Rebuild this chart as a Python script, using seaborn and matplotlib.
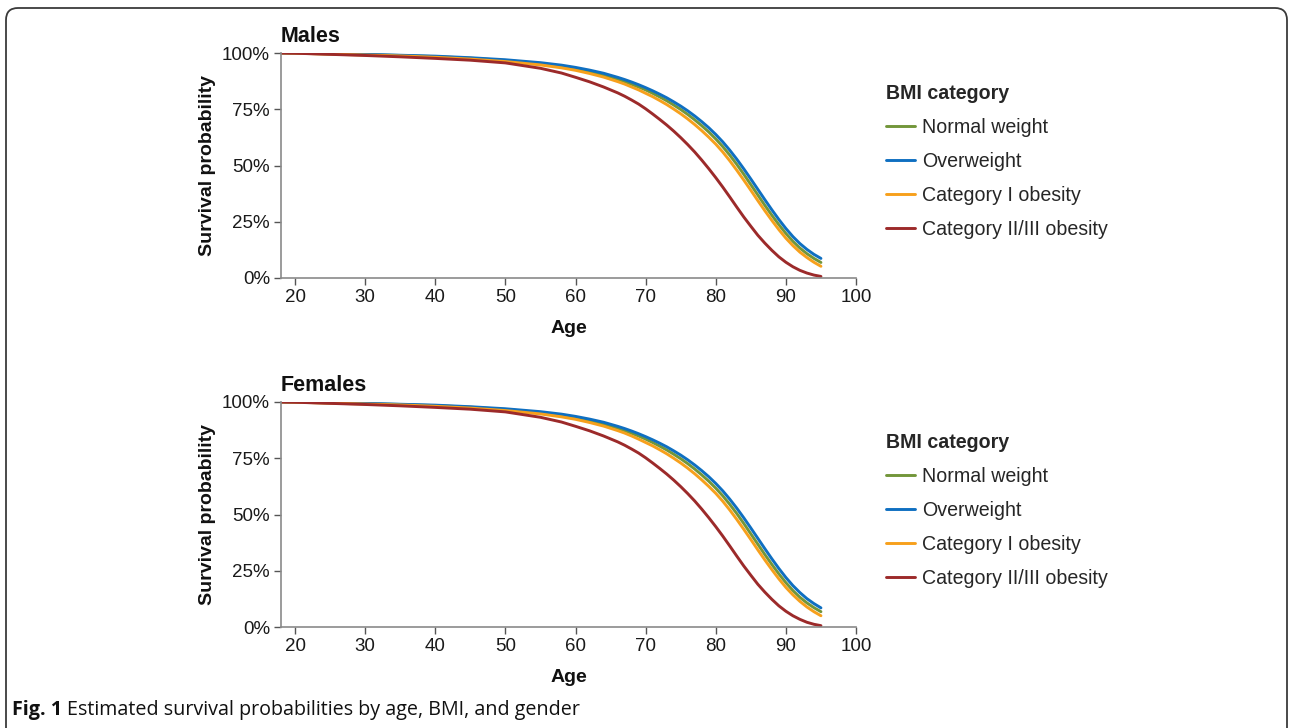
import numpy as np
import pandas as pd
import matplotlib
matplotlib.use("Agg")
import matplotlib.pyplot as plt
from matplotlib.patches import FancyBboxPatch
from matplotlib.ticker import PercentFormatter
import seaborn as sns

# ---------------- data ----------------
ages = [18, 20, 25, 30, 35, 40, 45, 50, 55, 58, 60, 62, 64, 66,
        67, 68, 69, 70, 71, 72, 73, 74, 75, 76, 77, 78, 79, 80, 81,
        82, 83, 84, 85, 86, 87, 88, 89, 90, 91, 92, 93, 94, 95]

categories = ["Normal weight", "Overweight", "Category I obesity", "Category II/III obesity"]

males_normal = [100, 99.9, 99.6, 99.3, 98.9, 98.4, 97.7, 96.7, 95.3, 94.1, 93.1, 91.8, 90.3, 88.4,
                87.3, 86.1, 84.9, 83.6, 82.1, 80.5, 78.8, 76.9, 74.9, 72.7, 70.3, 67.7, 64.9, 61.8, 58.4,
                54.6, 50.5, 46.1, 41.5, 36.9, 32.3, 27.9, 23.7, 19.8, 16.3, 13.3, 10.8, 8.7, 6.9]
males_over = [100, 99.9, 99.7, 99.4, 99.0, 98.6, 97.9, 97.0, 95.7, 94.6, 93.6, 92.4, 91.0, 89.2,
              88.2, 87.1, 85.9, 84.6, 83.2, 81.7, 80.1, 78.3, 76.4, 74.3, 72.0, 69.5, 66.8, 63.8, 60.5,
              56.8, 52.8, 48.5, 44.0, 39.4, 34.8, 30.3, 26.0, 22.0, 18.4, 15.3, 12.7, 10.5, 8.7]
males_cat1 = [100, 99.9, 99.5, 99.1, 98.7, 98.1, 97.3, 96.2, 94.7, 93.4, 92.3, 90.9, 89.3, 87.3,
              86.2, 84.9, 83.6, 82.1, 80.6, 78.9, 77.1, 75.1, 73.0, 70.7, 68.2, 65.5, 62.6, 59.5, 56.0,
              52.1, 47.9, 43.5, 39.0, 34.4, 29.9, 25.6, 21.5, 17.7, 14.4, 11.5, 9.1, 7.0, 5.2]
males_cat23 = [100, 99.9, 99.4, 98.9, 98.3, 97.6, 96.8, 95.6, 93.2, 91.1, 89.2, 87.2, 84.9, 82.3,
               80.8, 79.1, 77.3, 75.2, 72.9, 70.5, 68.0, 65.3, 62.4, 59.3, 56.0, 52.4, 48.6, 44.6, 40.4,
               36.0, 31.5, 27.1, 23.0, 19.0, 15.5, 12.3, 9.4, 7.0, 5.0, 3.4, 2.2, 1.3, 0.7]

females_normal = [100, 99.9, 99.6, 99.3, 98.9, 98.4, 97.7, 96.7, 95.3, 94.1, 93.1, 91.8, 90.3, 88.4,
                  87.3, 86.1, 84.9, 83.5, 82.0, 80.4, 78.7, 76.8, 74.8, 72.6, 70.2, 67.6, 64.8, 61.7, 58.3,
                  54.5, 50.4, 46.0, 41.4, 36.8, 32.2, 27.8, 23.6, 19.7, 16.2, 13.2, 10.7, 8.6, 6.8]
females_over = [100, 99.9, 99.7, 99.4, 99.0, 98.6, 97.9, 97.0, 95.7, 94.6, 93.6, 92.4, 91.0, 89.2,
                88.2, 87.1, 85.9, 84.6, 83.2, 81.7, 80.1, 78.3, 76.4, 74.3, 72.0, 69.5, 66.8, 63.8, 60.5,
                56.8, 52.8, 48.5, 44.0, 39.4, 34.8, 30.3, 26.0, 22.0, 18.4, 15.3, 12.6, 10.4, 8.5]
females_cat1 = [100, 99.9, 99.5, 99.1, 98.7, 98.1, 97.3, 96.2, 94.7, 93.4, 92.3, 90.9, 89.3, 87.3,
                86.2, 84.9, 83.5, 82.0, 80.5, 78.8, 77.0, 75.0, 72.9, 70.6, 68.1, 65.4, 62.5, 59.4, 55.9,
                52.0, 47.8, 43.4, 38.9, 34.3, 29.8, 25.5, 21.4, 17.6, 14.3, 11.4, 8.9, 6.8, 5.0]
females_cat23 = [100, 99.9, 99.4, 98.9, 98.3, 97.6, 96.8, 95.6, 93.2, 91.1, 89.2, 87.2, 84.9, 82.3,
                 80.8, 79.1, 77.3, 75.2, 72.9, 70.5, 68.0, 65.3, 62.4, 59.3, 56.0, 52.4, 48.6, 44.6, 40.4,
                 36.0, 31.5, 27.1, 23.0, 19.0, 15.5, 12.3, 9.4, 7.0, 5.0, 3.4, 2.1, 1.2, 0.6]

x_ticks = [20, 30, 40, 50, 60, 70, 80, 90, 100]
y_ticks = [0, 0.25, 0.5, 0.75, 1.0]
colors = ["#72963A", "#0F6FC1", "#F7A01C", "#9C2A2A"]
caption_bold = "Fig. 1"
caption_text = "Estimated survival probabilities by age, BMI, and gender"


def long_frame(series):
    rows = []
    for cat, vals in zip(categories, series):
        for a, v in zip(ages, vals):
            rows.append({"Age": a, "Survival": v / 100.0, "BMI": cat})
    return pd.DataFrame(rows)


panels = [
    ("Males", long_frame([males_normal, males_over, males_cat1, males_cat23])),
    ("Females", long_frame([females_normal, females_over, females_cat1, females_cat23])),
]

# ---------------- style ----------------
sns.set_theme(style="ticks")
plt.rcParams["font.family"] = ["Liberation Sans", "DejaVu Sans"]

W, H = 1292, 728
fig = plt.figure(figsize=(W / 100, H / 100), dpi=100)

# rounded frame (open at the bottom, like the journal figure box)
frame = FancyBboxPatch((0.06, -0.5), 12.81, 7.70,
                       boxstyle="round,pad=0,rounding_size=0.12",
                       transform=fig.dpi_scale_trans, fill=False,
                       edgecolor="#3a3a3a", linewidth=1.3, zorder=0)
fig.patches.append(frame)

axes_px = [(53, 278), (402, 627)]  # top, bottom pixel rows of each axes
legend_top_px = [84, 433]
palette = dict(zip(categories, colors))

for (title, df), (ptop, pbot), ltop in zip(panels, axes_px, legend_top_px):
    ax = fig.add_axes([281 / W, 1 - pbot / H, 575 / W, (pbot - ptop) / H])
    sns.lineplot(data=df, x="Age", y="Survival", hue="BMI", hue_order=categories,
                 palette=palette, linewidth=2.1, ax=ax, legend=True)
    ax.set_xlim(18, 100)
    ax.set_ylim(0, 1.0)
    ax.set_xticks(x_ticks)
    ax.set_yticks(y_ticks)
    ax.yaxis.set_major_formatter(PercentFormatter(1.0, decimals=0))
    for side in ["top", "right"]:
        ax.spines[side].set_visible(False)
    for side in ["left", "bottom"]:
        ax.spines[side].set_color("#8a8a8a")
        ax.spines[side].set_linewidth(1.2)
    ax.tick_params(axis="both", length=5, width=1.0, color="#555555",
                   labelsize=13.5, labelcolor="#1a1a1a", pad=3)
    ax.set_xlabel("Age", fontsize=14, fontweight="bold", labelpad=10, color="#111111")
    ax.set_ylabel("Survival probability", fontsize=14, fontweight="bold", labelpad=4,
                  color="#111111")
    ax.set_title(title, loc="left", fontsize=15.5, fontweight="bold", pad=8, color="#111111")
    ax.grid(False)

    handles, labels = ax.get_legend_handles_labels()
    leg = ax.legend(handles, labels, title="BMI category", loc="upper left",
                    bbox_to_anchor=(886 / W, 1 - ltop / H), bbox_transform=fig.transFigure,
                    frameon=False, fontsize=14.1, title_fontsize=14.1,
                    handlelength=1.5, handletextpad=0.35, labelspacing=0.76,
                    borderpad=0, borderaxespad=0, alignment="left")
    leg.get_title().set_fontweight("bold")
    for lh in leg.get_lines():
        lh.set_linewidth(2.1)

# caption
cap_font = ["Open Sans", "DejaVu Sans"]
t1 = fig.text(12 / W, 1 - 710 / H, caption_bold, fontsize=14.2, fontweight="bold",
              family=cap_font, va="center", ha="left", color="#111111")
fig.canvas.draw()
bb = t1.get_window_extent(renderer=fig.canvas.get_renderer())
fig.text((bb.x1 + 5) / W, 1 - 710 / H, caption_text,
         fontsize=14.2, family=cap_font, va="center", ha="left", color="#111111")

fig.savefig("out.png", dpi=100)
